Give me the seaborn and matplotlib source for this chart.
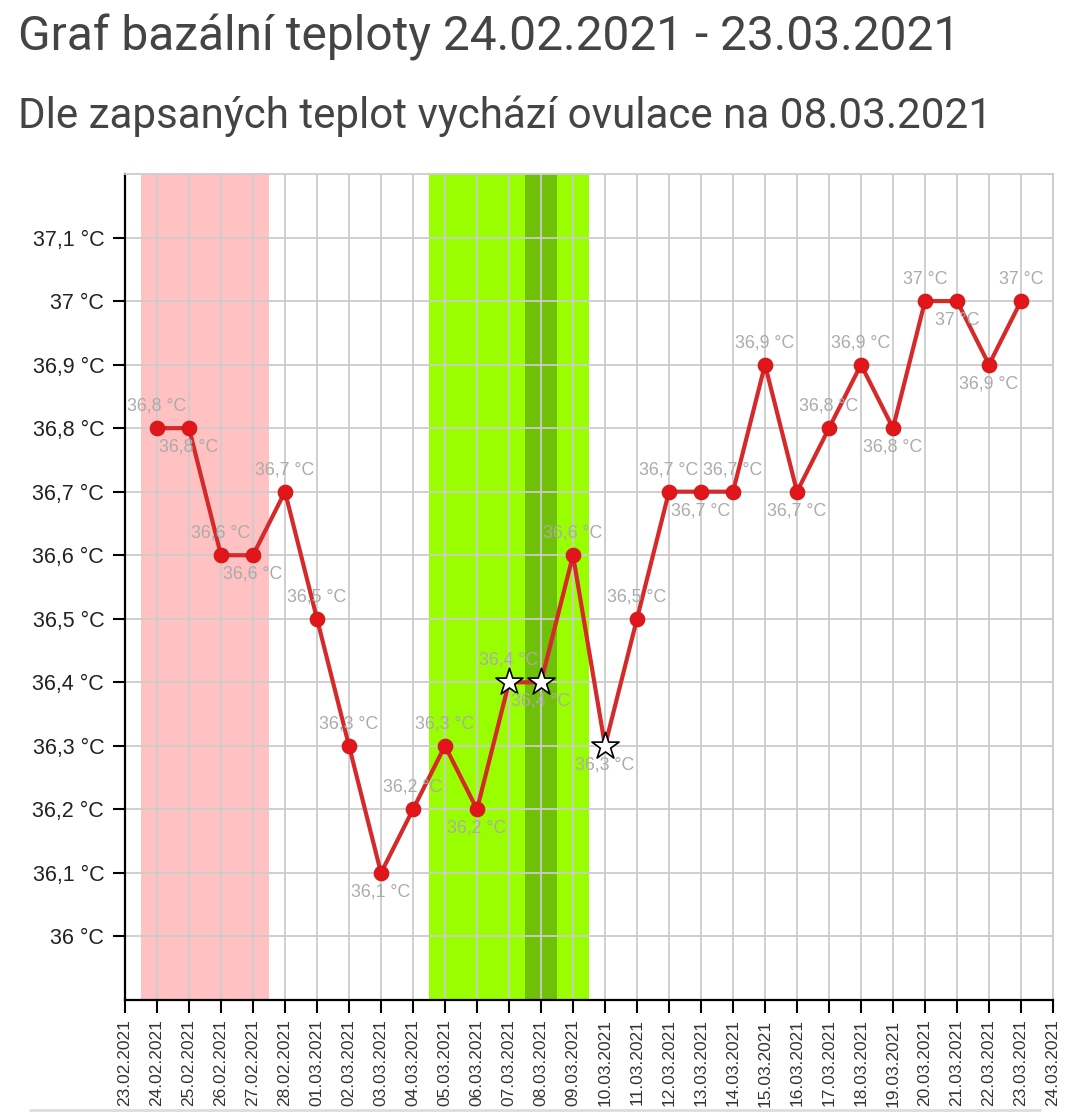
import numpy as np
import pandas as pd
import matplotlib
matplotlib.use("Agg")
import matplotlib.pyplot as plt
from matplotlib.lines import Line2D
import seaborn as sns

# ---------------- data ----------------
tick_dates = ["23.02.2021", "24.02.2021", "25.02.2021", "26.02.2021", "27.02.2021",
              "28.02.2021", "01.03.2021", "02.03.2021", "03.03.2021", "04.03.2021",
              "05.03.2021", "06.03.2021", "07.03.2021", "08.03.2021", "09.03.2021",
              "10.03.2021", "11.03.2021", "12.03.2021", "13.03.2021", "14.03.2021",
              "15.03.2021", "16.03.2021", "17.03.2021", "18.03.2021", "19.03.2021",
              "20.03.2021", "21.03.2021", "22.03.2021", "23.03.2021", "24.03.2021"]
record_dates = tick_dates[1:29]
temps = [36.8, 36.8, 36.6, 36.6, 36.7, 36.5, 36.3, 36.1, 36.2, 36.3,
         36.2, 36.4, 36.4, 36.6, 36.3, 36.5, 36.7, 36.7, 36.7, 36.9,
         36.7, 36.8, 36.9, 36.8, 37.0, 37.0, 36.9, 37.0]
star_dates = ["07.03.2021", "08.03.2021", "10.03.2021"]
period_dates = ["24.02.2021", "27.02.2021"]
fertile_dates = ["05.03.2021", "09.03.2021"]
ovulation_date = "08.03.2021"
y_ticks = [36.0, 36.1, 36.2, 36.3, 36.4, 36.5, 36.6, 36.7, 36.8, 36.9, 37.0, 37.1]

title = "Graf bazální teploty 24.02.2021 - 23.03.2021"
subtitle = "Dle zapsaných teplot vychází ovulace na 08.03.2021"

# ---------------- build ----------------
pos = {d: i for i, d in enumerate(tick_dates)}
df = pd.DataFrame({"date": record_dates, "temp": temps})
df["x"] = df["date"].map(pos)
df["star"] = df["date"].isin(star_dates)

def fmt(v):
    return f"{v:g}".replace(".", ",") + " °C"

sns.set_style("white")
plt.rcParams["font.family"] = ["Liberation Sans", "DejaVu Sans"]

fig = plt.figure(figsize=(10.8, 11.14), dpi=100)
ax = fig.add_axes([125 / 1080, 1 - 1000 / 1114, (1053 - 125) / 1080, (1000 - 174) / 1114])

# background spans
ax.axvspan(pos[period_dates[0]] - 0.5, pos[period_dates[1]] + 0.5, color="#ffc1c1", lw=0, zorder=0.2)
ax.axvspan(pos[fertile_dates[0]] - 0.5, pos[fertile_dates[1]] + 0.5, color="#99ff00", lw=0, zorder=0.2)
ax.axvspan(pos[ovulation_date] - 0.5, pos[ovulation_date] + 0.5, color="#70bf08", lw=0, zorder=0.3)

line_col = "#d42a2a"
sns.lineplot(data=df, x="x", y="temp", ax=ax, color=line_col, lw=3, zorder=3, legend=False)
sns.scatterplot(data=df[~df["star"]], x="x", y="temp", ax=ax, color="#e0161a",
                s=110, edgecolor="#d01818", linewidth=0.8, zorder=4, legend=False)
sns.scatterplot(data=df[df["star"]], x="x", y="temp", ax=ax, marker="*", color="white",
                s=420, edgecolor="black", linewidth=1.2, zorder=5, legend=False)

# value labels
vals = df["temp"].tolist()
sides = []
for i, v in enumerate(vals):
    below = False
    if 0 < i < len(vals) - 1:
        if v < vals[i - 1] and v < vals[i + 1]:
            below = True
        elif v == vals[i - 1] and sides[i - 1] == "above":
            below = True
    sides.append("below" if below else "above")

for (x, v), side in zip(zip(df["x"], vals), sides):
    dy = -22 if side == "above" else 19
    ax.annotate(fmt(v), (x, v), xytext=(0, -dy), textcoords="offset pixels",
                ha="center", va="center", fontsize=12.8, color="#ababab", zorder=6)

ax.set_xlim(0, len(tick_dates) - 1)
ax.set_ylim(35.9, 37.2)
ax.set_xticks(range(len(tick_dates)))
ax.set_xticklabels(tick_dates, rotation=90, fontsize=12.5, color="#333333")
ax.set_yticks(y_ticks)
ax.set_yticklabels([fmt(v) for v in y_ticks], fontsize=15.5, color="#222222")
ax.set_xlabel("")
ax.set_ylabel("")

ax.set_axisbelow(True)
ax.grid(True, color="#cccccc", lw=1.3)
ax.tick_params(axis="both", which="both", direction="out", length=9, width=1.5,
               color="black", left=True, bottom=True, pad=6)
ax.tick_params(axis="x", pad=5)
for s in ["left", "bottom"]:
    ax.spines[s].set_color("black")
    ax.spines[s].set_linewidth(1.6)
for s in ["top", "right"]:
    ax.spines[s].set_color("#cccccc")
    ax.spines[s].set_linewidth(1.3)

# titles
fig.text(18 / 1080, 1 - 37 / 1114, title, fontsize=34.5, color="#444444",
         family=["Roboto", "DejaVu Sans"], va="center", ha="left")
fig.text(18 / 1080, 1 - 116 / 1114, subtitle, fontsize=30.3, color="#444444",
         family=["Roboto", "DejaVu Sans"], va="center", ha="left")

fig.add_artist(Line2D([30 / 1080, 1040 / 1080], [1 - 1110 / 1114] * 2,
                      color="#dddddd", lw=2, transform=fig.transFigure))

fig.savefig("out.png", dpi=100)
